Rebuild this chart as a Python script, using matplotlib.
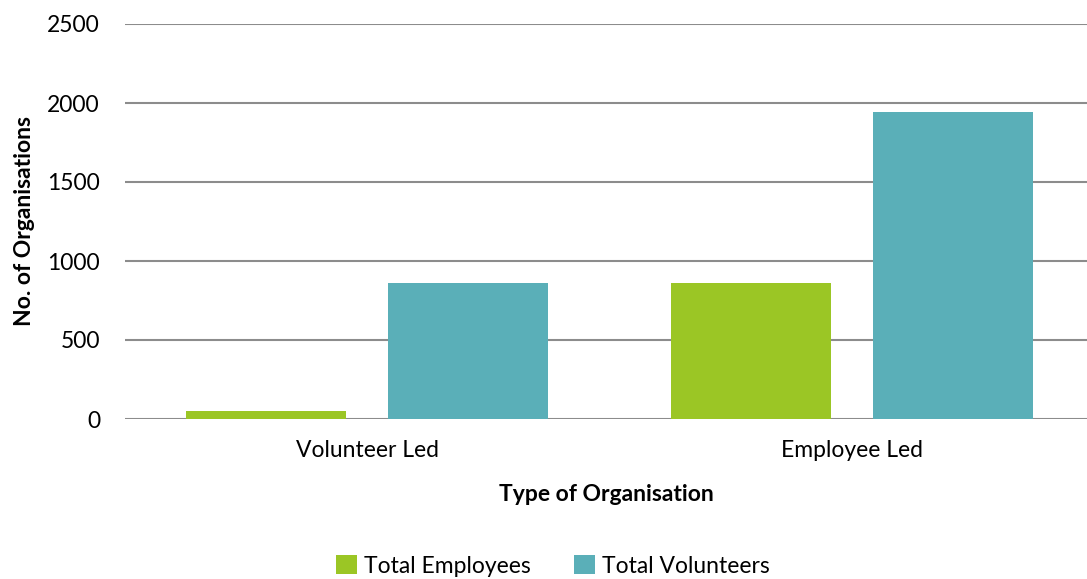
import numpy as np
import matplotlib.pyplot as plt

# Organisation counts by type of organisation
categories = ['Volunteer Led', 'Employee Led']
total_employees = [50, 860]
total_volunteers = [860, 1940]
y_ticks = [0, 500, 1000, 1500, 2000, 2500]

plt.rcParams['font.family'] = ['Lato', 'DejaVu Sans']

fig = plt.figure(figsize=(10.87, 5.79), dpi=100)
ax = fig.add_axes([125 / 1087, 1 - 419 / 579, 1 - 125 / 1087, (419 - 24) / 579])

x = np.arange(len(categories))
w = 0.33
gap = 0.087
ax.bar(x - (w + gap) / 2, total_employees, w, color='#9bc625', label='Total Employees', zorder=3)
ax.bar(x + (w + gap) / 2, total_volunteers, w, color='#5aafb8', label='Total Volunteers', zorder=3)

ax.set_xlim(-0.499, 1.484)
ax.set_ylim(0, 2500)
ax.set_yticks(y_ticks)
ax.set_xticks(x)
ax.set_xticklabels(categories)
ax.tick_params(axis='both', length=0, labelsize=16.5, colors='#000000')
ax.tick_params(axis='y', pad=18)
ax.tick_params(axis='x', pad=15)
ax.yaxis.grid(True, color='#8c8c8c', linewidth=1.5, zorder=0)
for s in ax.spines.values():
    s.set_visible(False)

ax.set_xlabel('Type of Organisation', fontsize=16.5, fontweight='bold', labelpad=17)
ax.set_ylabel('No. of Organisations', fontsize=16.5, fontweight='bold', labelpad=9)

fig.legend(loc='center', bbox_to_anchor=(553 / 1087, 1 - 566 / 579), ncol=2,
           frameon=False, fontsize=16.5, handlelength=0.9, handleheight=0.9,
           handletextpad=0.3, columnspacing=1.9)

fig.savefig('out.png', dpi=100)
